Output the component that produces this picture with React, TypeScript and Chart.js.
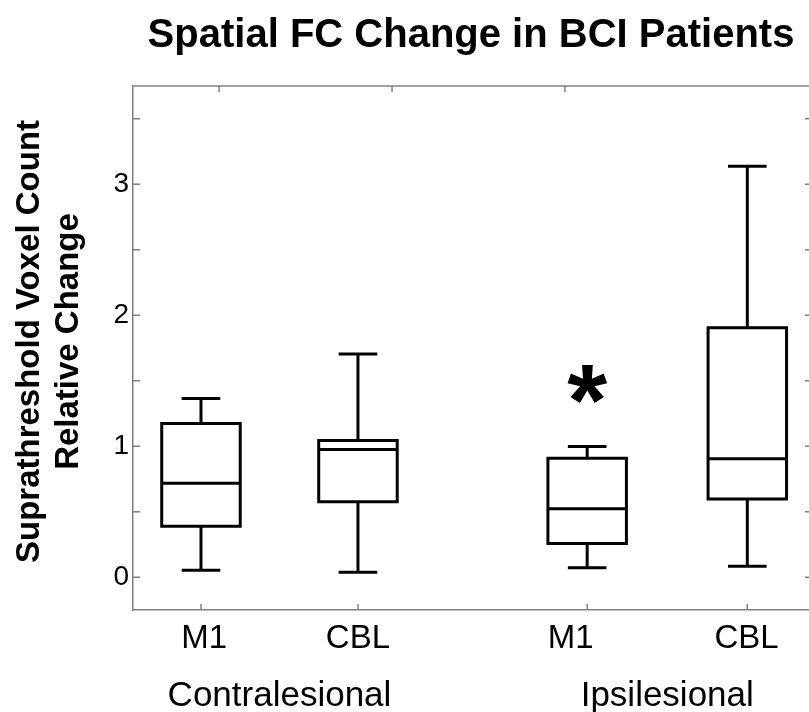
import React, { useEffect, useRef } from 'react';
import { Chart, registerables } from 'chart.js';

Chart.register(...registerables);

const FONT = "'Liberation Sans', Arial, Helvetica, sans-serif";

const titleText = 'Spatial FC Change in BCI Patients';
const yTitleLines = ['Suprathreshold Voxel Count', 'Relative Change'];
const categories = ['M1', 'CBL', 'M1', 'CBL'];
const positions = [1, 2, 3.46, 4.48];
const labelPositions = [1.02, 2, 3.355, 4.475];
const groupLabels = ['Contralesional', 'Ipsilesional'];
const groupMembers = [[0, 1], [2, 3]];
const whiskerLow = [0.053, 0.038, 0.072, 0.084];
const q1 = [0.389, 0.576, 0.257, 0.598];
const medians = [0.718, 0.975, 0.522, 0.904];
const q3 = [1.173, 1.044, 0.908, 1.904];
const whiskerHigh = [1.364, 1.705, 0.998, 3.137];
const significant = [false, false, true, false];
const yTicks = [0, 1, 2, 3];
const yMinorTicks = [0.5, 1.5, 2.5, 3.5];
const topTicks = [1.115, 2.217, 3.318];
const X_MIN = 0.567;
const X_MAX = 4.873;
const Y_MIN = -0.25;
const Y_MAX = 3.75;

const BOX_HALF = 0.25;
const CAP_HALF = 0.123;
const SPINE = '#808080';

const boxPlugin = {
  id: 'boxplots',
  afterDatasetsDraw(chart: any) {
    const { ctx, chartArea: a, scales } = chart;
    const x = scales.x;
    const y = scales.y;
    ctx.save();

    // top spine and inward ticks
    ctx.strokeStyle = SPINE;
    ctx.lineWidth = 1.5;
    ctx.beginPath();
    ctx.moveTo(a.left, a.top);
    ctx.lineTo(a.right, a.top);
    [...yTicks, ...yMinorTicks].forEach((v) => {
      const py = y.getPixelForValue(v);
      ctx.moveTo(a.left, py);
      ctx.lineTo(a.left + 7, py);
      ctx.moveTo(a.right, py);
      ctx.lineTo(a.right - 4, py);
    });
    positions.forEach((p) => {
      const px = x.getPixelForValue(p);
      ctx.moveTo(px, a.bottom);
      ctx.lineTo(px, a.bottom - 6);
    });
    topTicks.forEach((p) => {
      const px = x.getPixelForValue(p);
      ctx.moveTo(px, a.top);
      ctx.lineTo(px, a.top + 6);
    });
    ctx.stroke();

    // box plots
    ctx.strokeStyle = '#000';
    ctx.lineWidth = 3;
    ctx.lineJoin = 'miter';
    ctx.lineCap = 'butt';
    positions.forEach((p, i) => {
      const cx = x.getPixelForValue(p);
      const l = x.getPixelForValue(p - BOX_HALF);
      const r = x.getPixelForValue(p + BOX_HALF);
      const cl = x.getPixelForValue(p - CAP_HALF);
      const cr = x.getPixelForValue(p + CAP_HALF);
      const yLo = y.getPixelForValue(whiskerLow[i]);
      const yQ1 = y.getPixelForValue(q1[i]);
      const yMed = y.getPixelForValue(medians[i]);
      const yQ3 = y.getPixelForValue(q3[i]);
      const yHi = y.getPixelForValue(whiskerHigh[i]);
      ctx.beginPath();
      ctx.rect(l, yQ3, r - l, yQ1 - yQ3);
      ctx.moveTo(l, yMed);
      ctx.lineTo(r, yMed);
      ctx.moveTo(cx, yQ3);
      ctx.lineTo(cx, yHi);
      ctx.moveTo(cl, yHi);
      ctx.lineTo(cr, yHi);
      ctx.moveTo(cx, yQ1);
      ctx.lineTo(cx, yLo);
      ctx.moveTo(cl, yLo);
      ctx.lineTo(cr, yLo);
      ctx.stroke();

      if (significant[i]) {
        ctx.font = `bold 100px ${FONT}`;
        const m0 = ctx.measureText('*');
        const h0 = m0.actualBoundingBoxAscent + m0.actualBoundingBoxDescent;
        const size = (100 * 39) / h0;
        ctx.font = `bold ${size}px ${FONT}`;
        const m = ctx.measureText('*');
        const cy = yHi - 62;
        ctx.fillStyle = '#000';
        ctx.textAlign = 'center';
        ctx.textBaseline = 'alphabetic';
        ctx.fillText('*', cx, cy + (m.actualBoundingBoxAscent - m.actualBoundingBoxDescent) / 2);
      }
    });

    // group labels
    ctx.fillStyle = '#000';
    ctx.font = `35px ${FONT}`;
    ctx.textAlign = 'center';
    ctx.textBaseline = 'alphabetic';
    groupLabels.forEach((g, gi) => {
      const idx = groupMembers[gi];
      const px = (x.getPixelForValue(positions[idx[0]]) + x.getPixelForValue(positions[idx[1]])) / 2;
      ctx.fillText(g, px, 706);
    });

    // y-axis title
    ctx.font = `bold 33px ${FONT}`;
    const cyT = 341.5;
    yTitleLines.forEach((t, li) => {
      ctx.save();
      ctx.translate(39 + li * 39, cyT);
      ctx.rotate(-Math.PI / 2);
      ctx.fillText(t, 0, 0);
      ctx.restore();
    });

    ctx.restore();
  },
};

export default function App() {
  const ref = useRef<HTMLCanvasElement | null>(null);
  useEffect(() => {
    if (!ref.current) return;
    const chart = new Chart(ref.current, {
      type: 'scatter',
      data: {
        datasets: [
          {
            data: positions.map((p, i) => ({ x: p, y: medians[i] })),
            pointRadius: 0,
            showLine: false,
          },
        ],
      },
      options: {
        animation: false,
        responsive: false,
        devicePixelRatio: 1,
        layout: { padding: 0 },
        plugins: {
          legend: { display: false },
          tooltip: { enabled: false },
          title: {
            display: true,
            text: titleText,
            fullSize: false,
            color: '#000',
            font: { family: FONT, size: 40, weight: 'bold', lineHeight: 1.2 },
            padding: { top: 12, bottom: 26 },
          },
        },
        scales: {
          x: {
            type: 'linear',
            min: X_MIN,
            max: X_MAX,
            afterBuildTicks: (s: any) => {
              s.ticks = labelPositions.map((v) => ({ value: v }));
            },
            afterFit: (s: any) => {
              s.height = 102;
            },
            ticks: {
              autoSkip: false,
              maxRotation: 0,
              padding: 9,
              color: '#000',
              font: { family: FONT, size: 33, lineHeight: 1.2 },
              callback: (_v: any, i: number) => categories[i],
            },
            grid: { display: true, drawOnChartArea: false, drawTicks: false },
            border: { display: true, color: SPINE, width: 1.5 },
          },
          y: {
            type: 'linear',
            min: Y_MIN,
            max: Y_MAX,
            afterBuildTicks: (s: any) => {
              s.ticks = yTicks.map((v) => ({ value: v }));
            },
            afterFit: (s: any) => {
              s.width = 133;
            },
            ticks: {
              padding: 4,
              color: '#000',
              font: { family: FONT, size: 28, lineHeight: 1.2 },
              callback: (v: any) => String(v),
            },
            grid: { display: true, drawOnChartArea: false, drawTicks: false },
            border: { display: true, color: SPINE, width: 1.5 },
          },
        },
      },
      plugins: [boxPlugin],
    } as any);
    return () => chart.destroy();
  }, []);

  return (
    <div style={{ position: 'fixed', left: 0, top: 0, width: 809, height: 712, background: '#fff' }}>
      <canvas ref={ref} width={809} height={712} style={{ display: 'block' }} />
    </div>
  );
}
